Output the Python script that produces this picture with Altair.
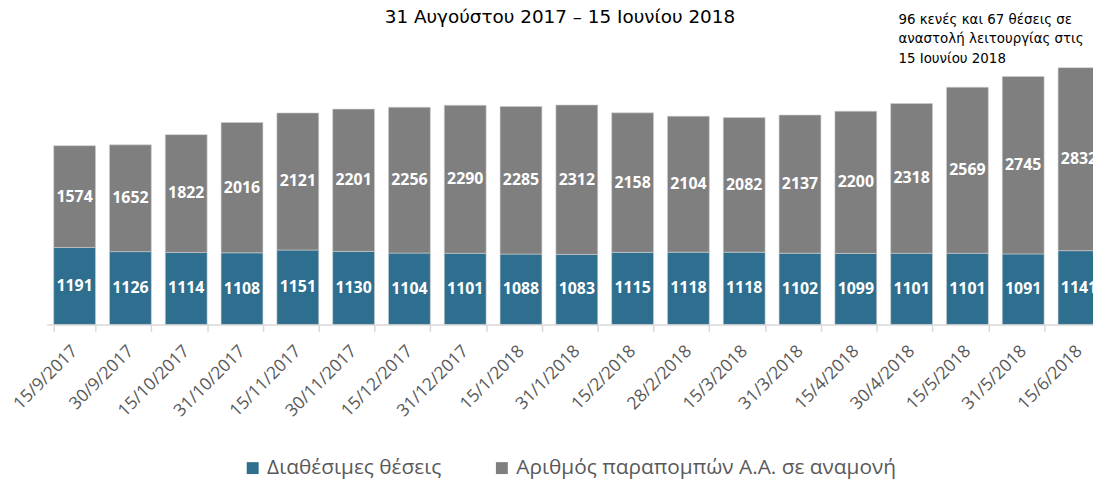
import altair as alt
import pandas as pd

dates = ["15/9/2017", "30/9/2017", "15/10/2017", "31/10/2017", "15/11/2017",
         "30/11/2017", "15/12/2017", "31/12/2017", "15/1/2018", "31/1/2018",
         "15/2/2018", "28/2/2018", "15/3/2018", "31/3/2018", "15/4/2018",
         "30/4/2018", "15/5/2018", "31/5/2018", "15/6/2018"]
available = [1191, 1126, 1114, 1108, 1151, 1130, 1104, 1101, 1088, 1083,
             1115, 1118, 1118, 1102, 1099, 1101, 1101, 1091, 1141]
waiting = [1574, 1652, 1822, 2016, 2121, 2201, 2256, 2290, 2285, 2312,
           2158, 2104, 2082, 2137, 2200, 2318, 2569, 2745, 2832]
series = ["Διαθέσιμες θέσεις", "Αριθμός παραπομπών Α.Α. σε αναμονή"]
colors = ["#2e6e8e", "#7f7f7f"]
title_text = "31 Αυγούστου 2017 – 15 Ιουνίου 2018"
note_lines = ["96 κενές και 67 θέσεις σε", "αναστολή λειτουργίας στις", "15 Ιουνίου 2018"]

rows = []
for d, a, w in zip(dates, available, waiting):
    rows.append({"date": d, "series": series[0], "value": a, "ord": 0})
    rows.append({"date": d, "series": series[1], "value": w, "ord": 1})
df = pd.DataFrame(rows)

xscale = alt.Scale(domain=dates, range=[0, 1068], paddingInner=0.25, paddingOuter=0.125)
yscale = alt.Scale(domain=[0, 4500])

base = alt.Chart(df).transform_stack(
    stack="value", groupby=["date"], sort=[alt.SortField("ord", order="ascending")],
    as_=["y0", "y1"]
).transform_calculate(mid="(datum.y0 + datum.y1) / 2")

bars = base.mark_bar(clip=True, stroke="#cfcfcf", strokeWidth=0.6).encode(
    x=alt.X("date:N", scale=xscale, sort=dates, title=None,
            axis=alt.Axis(labelAngle=-45, labelAlign="right", labelBaseline="middle",
                          labelFont="Open Sans", labelFontSize=17.5, labelColor="#595959",
                          labelPadding=17, tickBand="extent", tickSize=7,
                          tickColor="#d9d9d9", domainColor="#d9d9d9", tickWidth=1.5,
                          domainWidth=1.5, labelOverlap=False, labelLimit=300)),
    y=alt.Y("y0:Q", scale=yscale, axis=None),
    y2="y1:Q",
    color=alt.Color("series:N", scale=alt.Scale(domain=series, range=colors),
                    legend=alt.Legend(title=None, orient="none", legendX=197, legendY=427,
                                      direction="horizontal", symbolType="square",
                                      symbolSize=144, symbolStrokeWidth=0,
                                      labelFont="Open Sans", labelFontSize=21,
                                      labelColor="#595959", columnPadding=50,
                                      labelOffset=4, labelLimit=800)),
)

labels = base.mark_text(clip=True, font="Open Sans", fontWeight="bold", fontSize=16,
                        color="white", baseline="middle").encode(
    x=alt.X("date:N", scale=xscale, sort=dates),
    y=alt.Y("mid:Q", scale=yscale),
    text="value:Q",
)

one = pd.DataFrame({"k": [0]})
note = alt.Chart(one).mark_text(
    text=note_lines, align="left", baseline="alphabetic", lineHeight=19.7,
    font="DejaVu Sans", fontSize=13.5, color="black"
).encode(x=alt.value(858), y=alt.value(-10))

title = alt.Chart(one).mark_text(
    text=title_text, align="center", baseline="alphabetic",
    font="DejaVu Sans", fontSize=18.5, color="black"
).encode(x=alt.value(517), y=alt.value(-11))

chart = alt.layer(bars, labels, note, title).properties(
    width=1054, height=293,
    autosize=alt.AutoSizeParams(type="none"),
    padding={"left": 39, "top": 24, "right": 0, "bottom": 158},
).configure_view(stroke=None)

chart.save("out.html", embed_options={"renderer": "svg", "actions": False})
